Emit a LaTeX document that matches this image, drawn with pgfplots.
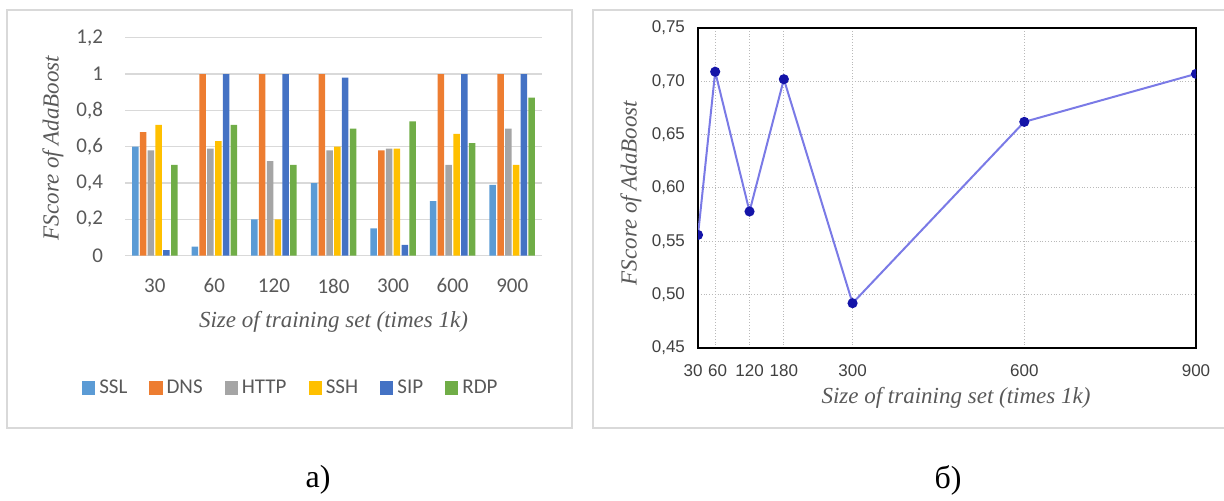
\documentclass[border=0pt]{standalone}
\usepackage{fontspec}
\setmainfont{Carlito}
\newfontfamily\serifit{Liberation Serif}
\newfontfamily\rsans{Liberation Sans}
\usepackage{pgfplots}
\pgfplotsset{compat=1.18}
\definecolor{cssl}{HTML}{5B9BD5}
\definecolor{cdns}{HTML}{ED7D31}
\definecolor{chttp}{HTML}{A5A5A5}
\definecolor{cssh}{HTML}{FFC000}
\definecolor{csip}{HTML}{4472C4}
\definecolor{crdp}{HTML}{70AD47}
\definecolor{boxgray}{HTML}{D9D9D9}
\definecolor{txtgray}{HTML}{595959}
\definecolor{linecol}{HTML}{7A7AE6}
\definecolor{markcol}{HTML}{1414A8}

\begin{document}
\begin{tikzpicture}
\useasboundingbox (0,0) rectangle (612pt,-250.5pt);
% panel frames
\draw[boxgray, line width=1pt] (3.5pt,-5pt) rectangle (286pt,-214pt);
\draw[boxgray, line width=1pt] (296.5pt,-5pt) rectangle (620pt,-214pt);

% a) bars
\begin{axis}[
  at={(62.5pt,-127.85pt)}, anchor=south west,
  scale only axis, width=208.5pt, height=109pt,
  ybar=0.65pt, bar width=3.25pt,
  xmin=-0.5, xmax=6.5, ymin=0, ymax=1.2,
  xtick={0,...,6}, xticklabels={30,60,120,180,300,600,900},
  ytick={0,0.2,...,1.2},
  axis line style={draw=none}, major tick length=0pt,
  ymajorgrids,
  grid style={boxgray, line width=0.6pt},
  /pgf/number format/assume math mode=true,
  /pgf/number format/fixed, /pgf/number format/precision=1,
  /pgf/number format/use comma,
  tick label style={font=\fontsize{10.5}{12}\selectfont, text=txtgray},
  yticklabel style={xshift=-7.5pt},
  xticklabel style={yshift=-8pt},
  legend columns=6,
  legend style={at={(0.40,-0.607)}, anchor=center, draw=none, fill=none,
    font=\fontsize{10.5}{12}\selectfont, text=txtgray,
    /tikz/every even column/.append style={column sep=9pt}},
  legend image code/.code={\fill[#1] (0pt,-3.3pt) rectangle (6.6pt,3.3pt);},
]
\addplot[fill=cssl, draw=none] coordinates {(0,0.60) (1,0.05) (2,0.20) (3,0.40) (4,0.15) (5,0.30) (6,0.39)};
\addplot[fill=cdns, draw=none] coordinates {(0,0.68) (1,1.00) (2,1.00) (3,1.00) (4,0.58) (5,1.00) (6,1.00)};
\addplot[fill=chttp, draw=none] coordinates {(0,0.58) (1,0.59) (2,0.52) (3,0.58) (4,0.59) (5,0.50) (6,0.70)};
\addplot[fill=cssh, draw=none] coordinates {(0,0.72) (1,0.63) (2,0.20) (3,0.60) (4,0.59) (5,0.67) (6,0.50)};
\addplot[fill=csip, draw=none] coordinates {(0,0.03) (1,1.00) (2,1.00) (3,0.98) (4,0.06) (5,1.00) (6,1.00)};
\addplot[fill=crdp, draw=none] coordinates {(0,0.50) (1,0.72) (2,0.50) (3,0.70) (4,0.74) (5,0.62) (6,0.87)};
\legend{SSL,DNS,HTTP,SSH,SIP,RDP}
\end{axis}
\node[rotate=90, text=txtgray, font=\serifit\itshape\fontsize{11.5}{13}\selectfont] at (26.5pt,-74pt) {FScore of AdaBoost};
\node[text=txtgray, font=\serifit\itshape\fontsize{11.5}{13}\selectfont] at (166.75pt,-161pt) {Size of training set (times 1k)};

% b) line
\begin{axis}[
  at={(349pt,-174pt)}, anchor=south west,
  scale only axis, width=249pt, height=160pt,
  xmin=30, xmax=900, ymin=0.45, ymax=0.75,
  xtick={30,60,120,180,300,600,900},
  xticklabels={\kern-5pt30,60\kern-2.5pt,120,180,300,600,900},
  ytick={0.45,0.5,...,0.76},
  axis line style={black, line width=0.9pt},
  major tick length=0pt,
  grid=major, grid style={gray!55, densely dotted, line width=0.5pt},
  clip marker paths=true,
  /pgf/number format/assume math mode=true,
  /pgf/number format/fixed, /pgf/number format/fixed zerofill,
  /pgf/number format/precision=2, /pgf/number format/use comma,
  tick label style={font=\rsans\fontsize{8.5}{10}\selectfont, text=black!75},
  yticklabel style={xshift=-3pt},
  xticklabel style={yshift=-5pt},
]
\addplot[linecol, line width=1pt, mark=*, mark size=2pt,
  mark options={fill=markcol, draw=markcol}]
  coordinates {(30,0.556) (60,0.709) (120,0.578) (180,0.702) (300,0.492) (600,0.662) (900,0.707)};
\end{axis}
\node[rotate=90, text=txtgray, font=\serifit\itshape\fontsize{11.5}{13}\selectfont] at (315.5pt,-96.5pt) {FScore of AdaBoost};
\node[text=txtgray, font=\serifit\itshape\fontsize{11.5}{13}\selectfont] at (478pt,-199pt) {Size of training set (times 1k)};

% captions
\node[font=\serifit\fontsize{16}{18}\selectfont] at (159pt,-240pt) {а)};
\node[font=\serifit\fontsize{16}{18}\selectfont] at (474pt,-240pt) {б)};
\end{tikzpicture}
\end{document}
